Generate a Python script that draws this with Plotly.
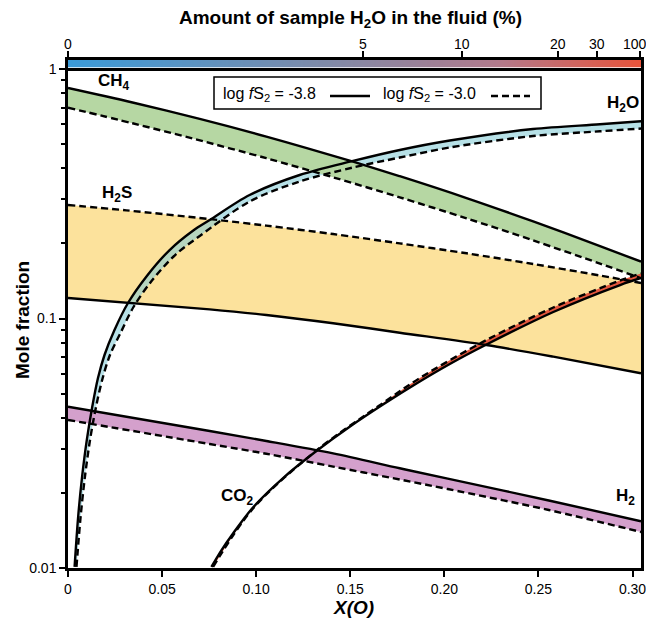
import numpy as np
import plotly.graph_objects as go

# ---------------- data (X(O) vs mole fraction) ----------------
ch4_solid_x = [0, 0.0343, 0.070, 0.1054, 0.1515, 0.1763, 0.2118, 0.2472, 0.2827, 0.3045]
ch4_solid_y = [0.839, 0.734, 0.631, 0.536, 0.425, 0.372, 0.304, 0.245, 0.195, 0.169]
ch4_dash_x = [0, 0.0343, 0.0664, 0.1054, 0.1409, 0.1763, 0.2118, 0.2472, 0.2827, 0.3045]
ch4_dash_y = [0.700, 0.606, 0.526, 0.439, 0.368, 0.306, 0.252, 0.2056, 0.166, 0.145]

h2o_solid_x = [0.0035, 0.0054, 0.0075, 0.0100, 0.0129, 0.0159, 0.0194, 0.0247, 0.0318, 0.0416,
               0.0540, 0.0664, 0.0753, 0.0965, 0.1231, 0.1515, 0.1763, 0.2029, 0.2471, 0.2827,
               0.3045]
h2o_solid_y = [0.0101, 0.01605, 0.02322, 0.0326, 0.0443, 0.0576, 0.0714, 0.0899, 0.1151, 0.1471,
               0.1881, 0.2248, 0.2481, 0.3126, 0.376, 0.428, 0.4735, 0.5168, 0.5748, 0.6003,
               0.6177]
h2o_dash_x = [0.0045, 0.0067, 0.0090, 0.0117, 0.0149, 0.0184, 0.0223, 0.0279, 0.0348, 0.0444,
              0.0572, 0.0700, 0.0965, 0.1231, 0.1515, 0.1763, 0.2029, 0.2471, 0.2827, 0.3045]
h2o_dash_y = [0.0101, 0.01605, 0.02322, 0.0326, 0.0443, 0.0576, 0.0714, 0.0875, 0.1112, 0.1413,
              0.1805, 0.2141, 0.2943, 0.354, 0.4029, 0.4417, 0.4846, 0.5388, 0.5627, 0.5774]

h2s_solid_x = [0, 0.0753, 0.1054, 0.1409, 0.1763, 0.2224, 0.2579, 0.3045]
h2s_solid_y = [0.1208, 0.1088, 0.1033, 0.0957, 0.0877, 0.0783, 0.0703, 0.0603]
h2s_dash_x = [0, 0.0310, 0.0753, 0.1054, 0.1409, 0.1763, 0.2118, 0.2472, 0.2827, 0.3045]
h2s_dash_y = [0.285, 0.2713, 0.2503, 0.2356, 0.218, 0.200, 0.1825, 0.1654, 0.1487, 0.1388]

h2_solid_x = [0, 0.0753, 0.1054, 0.1409, 0.1763, 0.2018, 0.2555, 0.3045]
h2_solid_y = [0.0443, 0.0354, 0.0323, 0.0288, 0.0251, 0.0228, 0.01865, 0.0154]
h2_dash_x = [0, 0.0753, 0.1054, 0.1409, 0.1763, 0.2018, 0.2555, 0.3045]
h2_dash_y = [0.0392, 0.0314, 0.0287, 0.0255, 0.02263, 0.02073, 0.01708, 0.01394]

co2_solid_x = [0.0762, 0.0816, 0.0877, 0.0983, 0.1143, 0.1320, 0.1497, 0.1674, 0.1852, 0.2029,
               0.2224, 0.2579, 0.2934, 0.3045]
co2_solid_y = [0.0101, 0.0118, 0.01375, 0.01748, 0.02294, 0.02943, 0.03683, 0.0452, 0.05489,
               0.06571, 0.07866, 0.1062, 0.1362, 0.1453]
co2_dash_x = [0.0771, 0.0983, 0.1320, 0.1674, 0.1870, 0.2224, 0.2579, 0.2934, 0.3045]
co2_dash_y = [0.0101, 0.01732, 0.02957, 0.04584, 0.05775, 0.08201, 0.1107, 0.1420, 0.1515]

# top scale: amount of sample H2O in the fluid (%) positioned on X(O)
pct_labels = ["0", "5", "10", "20", "30", "100"]
pct_xo = [0.0, 0.1568, 0.2094, 0.2604, 0.2810, 0.3042]

x_ticks = [0, 0.05, 0.10, 0.15, 0.20, 0.25, 0.30]
x_ticklabels = ["0", "0.05", "0.10", "0.15", "0.20", "0.25", "0.30"]
y_ticks = [0.01, 0.1, 1]
y_ticklabels = ["0.01", "0.1", "1"]

XMAX = 0.3045
FONT = "Liberation Sans, Arial, Helvetica, sans-serif"
SMOOTH = 0.9

fig = go.Figure()

series = [
    (h2s_solid_x, h2s_solid_y, h2s_dash_x, h2s_dash_y, "#fce29c"),
    (h2o_solid_x, h2o_solid_y, h2o_dash_x, h2o_dash_y, "rgba(135,205,215,0.6)"),
    (ch4_solid_x, ch4_solid_y, ch4_dash_x, ch4_dash_y, "#b6d7a3"),
    (h2_solid_x, h2_solid_y, h2_dash_x, h2_dash_y, "#d4a0cc"),
    (co2_solid_x, co2_solid_y, co2_dash_x, co2_dash_y, "#e4573d"),
]

# fills between the two fS2 curves (spline paths, no visible line)
for xs, ys, xd, yd, color in series:
    fig.add_trace(go.Scatter(x=xd, y=yd, mode="lines",
                             line=dict(width=0, shape="spline", smoothing=SMOOTH),
                             hoverinfo="skip", showlegend=False))
    fig.add_trace(go.Scatter(x=xs, y=ys, mode="lines", fill="tonexty", fillcolor=color,
                             line=dict(width=0, shape="spline", smoothing=SMOOTH),
                             hoverinfo="skip", showlegend=False))

# curves
for xs, ys, xd, yd, _ in series:
    fig.add_trace(go.Scatter(x=xd, y=yd, mode="lines",
                             line=dict(color="black", width=2.4, shape="spline",
                                       smoothing=SMOOTH, dash="7px,4px"),
                             hoverinfo="skip", showlegend=False))
    fig.add_trace(go.Scatter(x=xs, y=ys, mode="lines",
                             line=dict(color="black", width=2.4, shape="spline",
                                       smoothing=SMOOTH),
                             hoverinfo="skip", showlegend=False))

# gradient colour bar on its own subplot above the chart
grad_x = np.linspace(0, XMAX, 300)
fig.add_trace(go.Heatmap(
    x=grad_x, y=[0.5], z=[grad_x], xaxis="x2", yaxis="y2",
    colorscale=[[0, "#3a9bd9"], [0.45, "#7f8aa8"], [0.75, "#b27a8c"], [1, "#e8533a"]],
    showscale=False, hoverinfo="skip"))

# page geometry: the page body adds an 8 px offset, so the figure is made smaller
OFF = 8
PL, PR, PT, PB = 68, 641, 40, 568          # plot area in page pixels
W, H = 654 - OFF, 623 - OFF
PW, PH = PR - PL, PB - PT


def px(xp):
    return (xp - PL) / PW


def py(yp):
    return (PB - yp) / PH


tickfont = dict(family=FONT, size=14, color="black")

fig.update_layout(
    width=W, height=H,
    margin=dict(l=PL - OFF, r=W + OFF - PR, t=PT - OFF, b=H + OFF - PB, autoexpand=False),
    paper_bgcolor="white", plot_bgcolor="white",
    font=dict(family=FONT, color="black"),
    xaxis=dict(range=[0, XMAX], domain=[0, 1], tickvals=x_ticks, ticktext=x_ticklabels,
               ticks="outside", ticklen=6, tickwidth=2, tickcolor="black",
               showline=True, linewidth=2.5, linecolor="black", mirror=False,
               showgrid=False, zeroline=False, tickfont=tickfont, automargin=False),
    yaxis=dict(type="log", range=[-2, 0], domain=[0, py(69)], tickvals=y_ticks,
               ticktext=y_ticklabels, ticks="outside", ticklen=6, tickwidth=2,
               tickcolor="black", showline=True, linewidth=2.5, linecolor="black",
               mirror=True, showgrid=False, zeroline=False, tickfont=tickfont,
               automargin=False,
               minor=dict(tickvals=[0.02, 0.03, 0.04, 0.05, 0.06, 0.07, 0.08, 0.09,
                                    0.2, 0.3, 0.4, 0.5, 0.6, 0.7, 0.8, 0.9],
                          ticks="outside", ticklen=4, tickwidth=2, tickcolor="black",
                          showgrid=False)),
    xaxis2=dict(range=[0, XMAX], anchor="y2", side="top", tickvals=pct_xo,
                showticklabels=False, ticks="outside", ticklen=6, tickwidth=2,
                tickcolor="black", showline=True, linewidth=3, linecolor="black",
                mirror=True, showgrid=False, zeroline=False, automargin=False),
    yaxis2=dict(range=[0, 1], domain=[py(67.5), py(59.5)], anchor="x2",
                showticklabels=False, ticks="", showline=True, linewidth=3,
                linecolor="black", mirror=True, showgrid=False, zeroline=False,
                automargin=False),
)


def note(text, xp, yp, size, **kw):
    d = dict(text=text, x=px(xp), y=py(yp), xref="paper", yref="paper", showarrow=False,
             xanchor="center", yanchor="middle", font=dict(size=size))
    d.update(kw)
    return d


annotations = [
    note("<b>Amount of sample H<sub>2</sub>O in the fluid (%)</b>", 350, 19, 19),
    note("<b>Mole fraction</b>", 22, 320, 19, textangle=-90),
    note("<b><i>X(O)</i></b>", 353, 607, 19),
    note("log <i>f</i>S<sub>2</sub> = -3.8", 221, 94, 16, xanchor="left"),
    note("log <i>f</i>S<sub>2</sub> = -3.0", 381, 94, 16, xanchor="left"),
]
# labels of the top H2O scale
for i, (lab, xo) in enumerate(zip(pct_labels, pct_xo)):
    annotations.append(dict(text=lab, x=xo, xref="x2", y=py(44), yref="paper",
                            xanchor="center", yanchor="middle", showarrow=False,
                            xshift=-5 if i == len(pct_labels) - 1 else 0,
                            font=dict(size=14)))

species = [("<b>CH<sub>4</sub></b>", 0.0245, 0.887), ("<b>H<sub>2</sub>S</b>", 0.0262, 0.315),
           ("<b>H<sub>2</sub>O</b>", 0.2950, 0.724), ("<b>CO<sub>2</sub></b>", 0.0900, 0.0193),
           ("<b>H<sub>2</sub></b>", 0.2960, 0.0193)]
for t, xv, yv in species:
    annotations.append(dict(text=t, x=xv, y=np.log10(yv), xref="x", yref="y",
                            xanchor="center", yanchor="middle",
                            showarrow=False, font=dict(size=17)))
fig.update_layout(annotations=annotations)

fig.update_layout(shapes=[
    dict(type="rect", xref="paper", yref="paper", x0=px(214), x1=px(541), y0=py(109), y1=py(77),
         line=dict(color="black", width=1.5), fillcolor="white", layer="below"),
    dict(type="line", xref="paper", yref="paper", x0=px(330), x1=px(370), y0=py(96), y1=py(96),
         line=dict(color="black", width=2.4)),
    dict(type="line", xref="paper", yref="paper", x0=px(491), x1=px(530), y0=py(96), y1=py(96),
         line=dict(color="black", width=2.4, dash="7px,4px")),
])

fig.write_html("out.html")
